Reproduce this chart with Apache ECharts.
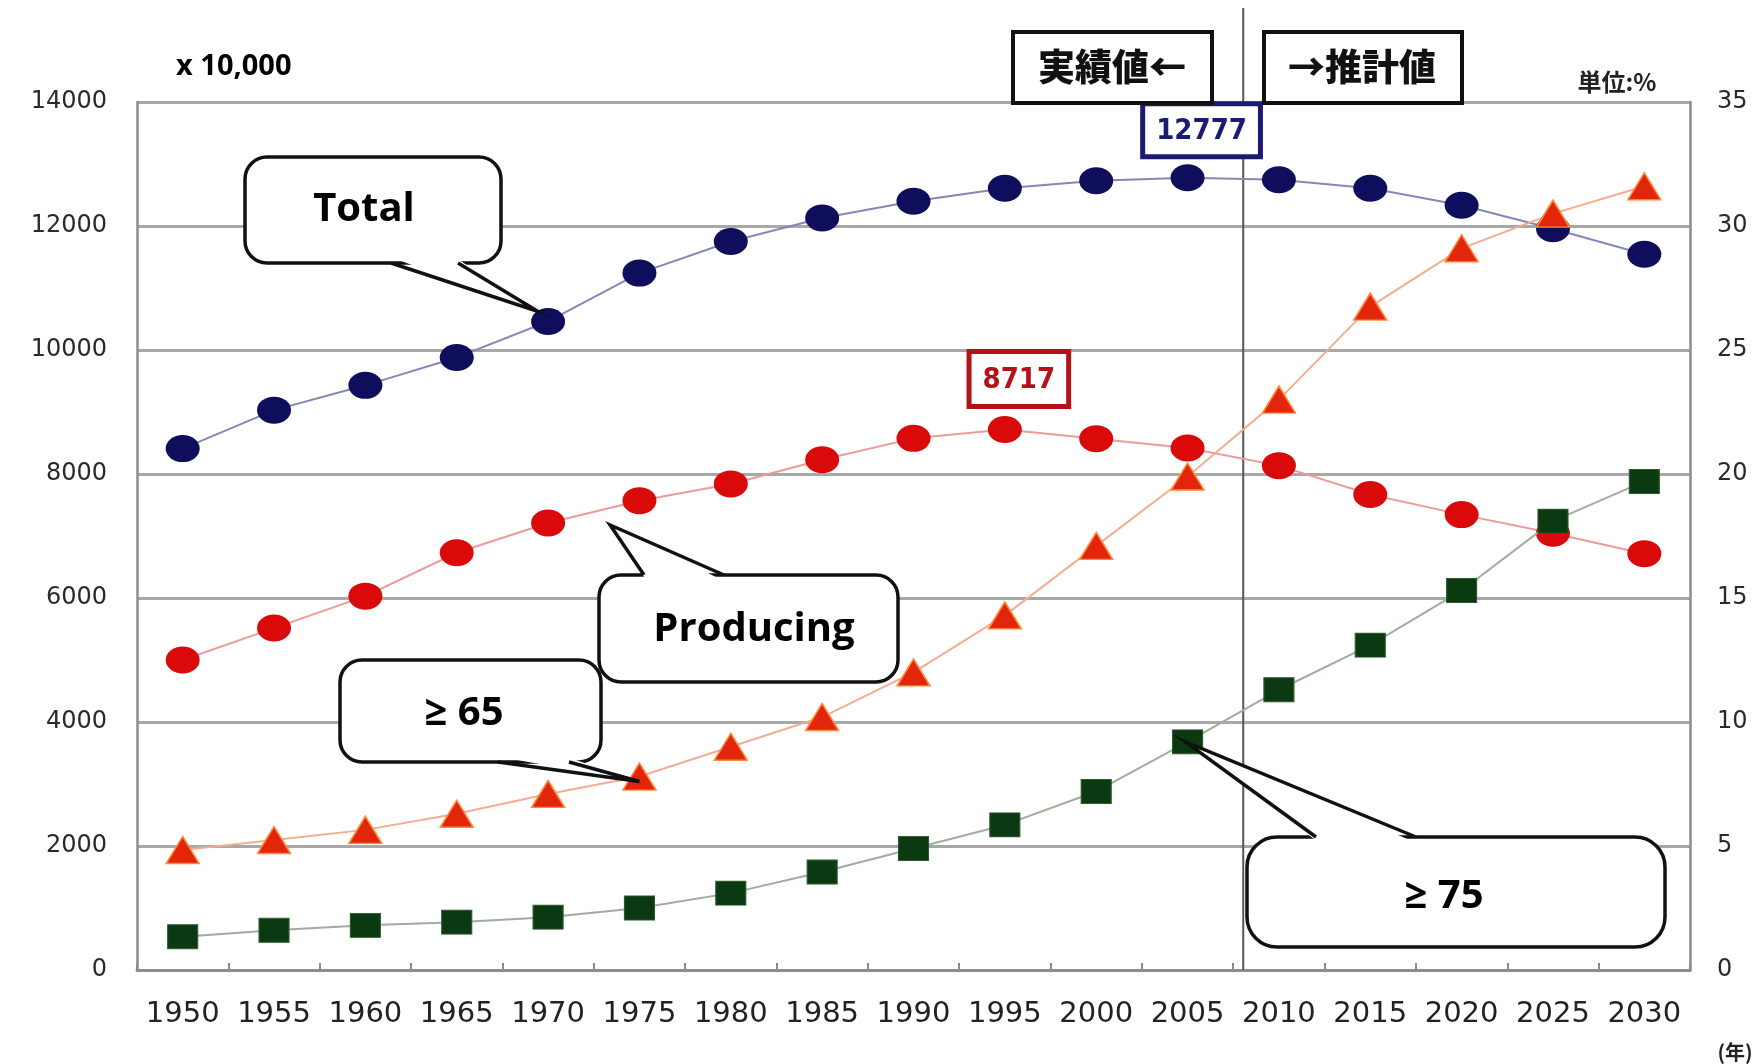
<!DOCTYPE html>
<html>
<head>
<meta charset="utf-8">
<script src="https://cdn.jsdelivr.net/npm/echarts@6/dist/echarts.min.js"></script>
<style>
  html, body { margin: 0; padding: 0; background: #fff; }
  #chart { width: 1760px; height: 1064px; }
</style>
</head>
<body>
<div id="chart"></div>
<script>
// population, x 10,000 (left axis)
const years = ['1950', '1955', '1960', '1965', '1970', '1975', '1980', '1985', '1990',
  '1995', '2000', '2005', '2010', '2015', '2020', '2025', '2030']
const totalPop = [8410, 9030, 9430, 9880, 10460, 11240, 11750, 12130, 12400,
  12610, 12730, 12777, 12745, 12610, 12335, 11955, 11545]
const producingPop = [5000, 5515, 6030, 6730, 7210, 7570, 7840, 8230, 8575,
  8717, 8570, 8420, 8135, 7670, 7345, 7045, 6715]
// share of population, % (right axis)
const over65 = [4.84, 5.24, 5.65, 6.3, 7.1, 7.8, 9.0, 10.2, 12.0,
  14.3, 17.1, 19.9, 23.0, 26.75, 29.1, 30.5, 31.6]
const over75 = [1.34, 1.6, 1.8, 1.93, 2.13, 2.5, 3.1, 3.95, 4.9,
  5.85, 7.2, 9.2, 11.3, 13.1, 15.3, 18.1, 19.7]

const leftTicks = { min: 0, max: 14000, interval: 2000 }
const rightTicks = { min: 0, max: 35, interval: 5 }

const axisFont = 'DejaVu Sans'
const boldFont = 'Open Sans'
const cjkFont = 'Noto Sans CJK JP'

// put a boxed value label on the peak of a series
function withPeakLabel(values, label) {
  const peak = Math.max(...values)
  return values.map(v => v === peak
    ? { value: v, label: Object.assign({ show: true, formatter: '{c}' }, label) }
    : v)
}

const chart = echarts.init(document.getElementById('chart'))

chart.setOption({
  animation: false,
  backgroundColor: '#fff',
  grid: { left: 137, right: 70, top: 102, bottom: 94 },
  xAxis: {
    type: 'category',
    data: years,
    boundaryGap: true,
    axisLine: { lineStyle: { color: '#8c8c8c', width: 3 } },
    axisTick: { show: true, inside: true, length: 7, lineStyle: { color: '#8c8c8c', width: 2 } },
    axisLabel: { interval: 0, margin: 30, fontFamily: axisFont, fontSize: 29, color: '#222' },
    splitLine: { show: false }
  },
  yAxis: [{
    type: 'value',
    min: leftTicks.min,
    max: leftTicks.max,
    interval: leftTicks.interval,
    axisLine: { show: true, lineStyle: { color: '#8c8c8c', width: 2.5 } },
    axisTick: { show: false },
    axisLabel: { margin: 30, fontFamily: axisFont, fontSize: 24, color: '#2a2a2a', formatter: v => String(v) },
    splitLine: { show: true, lineStyle: { color: '#a8a8a8', width: 3 } }
  }, {
    type: 'value',
    position: 'right',
    min: rightTicks.min,
    max: rightTicks.max,
    interval: rightTicks.interval,
    axisLine: { show: true, lineStyle: { color: '#8c8c8c', width: 2.5 } },
    axisTick: { show: false },
    axisLabel: { margin: 27, fontFamily: axisFont, fontSize: 24, color: '#2a2a2a', formatter: v => String(v) },
    splitLine: { show: false }
  }],
  series: [{
    name: 'Total',
    type: 'line',
    yAxisIndex: 0,
    data: withPeakLabel(totalPop, {
      position: 'top', distance: 10, offset: [14, 0],
      color: '#1b1b72', fontFamily: 'DejaVu Sans Condensed', fontWeight: 'bold', fontSize: 29,
      lineHeight: 40, padding: [5, 11, 3, 11], borderColor: '#1b1b72', borderWidth: 5,
      backgroundColor: '#fff'
    }),
    symbol: 'circle',
    symbolSize: [34, 27],
    itemStyle: { color: '#0e0e5c' },
    lineStyle: { color: '#8587b8', width: 2 },
    z: 3
  }, {
    name: 'Producing',
    type: 'line',
    yAxisIndex: 0,
    data: withPeakLabel(producingPop, {
      position: 'top', distance: 12, offset: [14, 0],
      color: '#b3121a', fontFamily: 'DejaVu Sans Condensed', fontWeight: 'bold', fontSize: 29,
      lineHeight: 40, padding: [6, 11, 4, 11], borderColor: '#b3121a', borderWidth: 5,
      backgroundColor: '#fff'
    }),
    symbol: 'circle',
    symbolSize: [34, 27],
    itemStyle: { color: '#da0a0a' },
    lineStyle: { color: '#ec9a9a', width: 2 },
    z: 3
  }, {
    name: '≥ 65',
    type: 'line',
    yAxisIndex: 1,
    data: over65,
    symbol: 'triangle',
    symbolSize: [33, 27],
    itemStyle: { color: '#e2260c', borderColor: '#ff8a3c', borderWidth: 1.5 },
    lineStyle: { color: '#f2ae90', width: 2 },
    z: 4
  }, {
    name: '≥ 75',
    type: 'line',
    yAxisIndex: 1,
    data: over75,
    symbol: 'rect',
    symbolSize: [30, 24],
    itemStyle: { color: '#0b3a12', borderColor: '#2e5a30', borderWidth: 1 },
    lineStyle: { color: '#9fae9c', width: 2 },
    z: 5
  }]
})

// annotations: callouts, period boxes, unit texts
const STROKE = 3.5

function callout(box, label, textAt, base, tip) {
  // base = [x1, x2, y], the edge of the box where the tail leaves
  const inward = base[2] <= box.y + 1 ? 5 : -5
  return [{
    type: 'rect', z: 100,
    shape: { x: box.x, y: box.y, width: box.w, height: box.h, r: box.r },
    style: { fill: '#fff', stroke: '#111', lineWidth: STROKE }
  }, {
    type: 'polygon', z: 101,
    shape: { points: [[base[0] + 2, base[2] + inward], tip, [base[1] - 2, base[2] + inward]] },
    style: { fill: '#fff' }
  }, {
    type: 'polyline', z: 102,
    shape: { points: [[base[0], base[2]], tip, [base[1], base[2]]] },
    style: { stroke: '#111', lineWidth: STROKE, fill: null, lineJoin: 'miter' }
  }, {
    type: 'text', z: 103, x: textAt[0], y: textAt[1],
    style: { text: label, font: 'bold 40px "' + boldFont + '"', fill: '#000', align: 'center', verticalAlign: 'middle' }
  }]
}

const px = (seriesIndex, i, v) => chart.convertToPixel({ seriesIndex }, [i, v])

const i1970 = years.indexOf('1970')
const i1975 = years.indexOf('1975')
const i2005 = years.indexOf('2005')
const i2010 = years.indexOf('2010')

const pTotal = px(0, i1970, totalPop[i1970])
const pProd = px(1, i1970, producingPop[i1970])
const p65 = px(2, i1975, over65[i1975])
const p75 = px(3, i2005, over75[i2005])

const sepX = (px(0, i2005, 0)[0] + px(0, i2010, 0)[0]) / 2 + 10
const axisBottom = px(0, 0, 0)[1]

const graphics = [].concat(
  callout({ x: 245, y: 157, w: 256, h: 106, r: 22 }, 'Total', [364, 210],
    [391, 458, 263], [pTotal[0] - 10, pTotal[1] - 10]),
  callout({ x: 599, y: 575, w: 299, h: 107, r: 22 }, 'Producing', [754, 630],
    [644, 724, 575], [pProd[0] + 62, pProd[1] + 2]),
  callout({ x: 340, y: 660, w: 261, h: 102, r: 22 }, '≥ 65', [464, 714],
    [498, 569, 762], [p65[0], p65[1] + 5]),
  callout({ x: 1247, y: 837, w: 418, h: 110, r: 30 }, '≥ 75', [1444, 897],
    [1316, 1416, 837], [p75[0] - 2, p75[1]]),
  [{
    type: 'line', z: 1,
    shape: { x1: sepX, y1: 8, x2: sepX, y2: axisBottom },
    style: { stroke: '#555', lineWidth: 2 }
  }, {
    type: 'rect', z: 100,
    shape: { x: 1013, y: 32, width: 199, height: 71 },
    style: { fill: '#fff', stroke: '#111', lineWidth: 4 }
  }, {
    type: 'text', z: 101, x: 1112, y: 67,
    style: { text: '実績値←', font: '900 37px "' + cjkFont + '"', fill: '#111', align: 'center', verticalAlign: 'middle' }
  }, {
    type: 'rect', z: 100,
    shape: { x: 1264, y: 32, width: 198, height: 71 },
    style: { fill: '#fff', stroke: '#111', lineWidth: 4 }
  }, {
    type: 'text', z: 101, x: 1362, y: 67,
    style: { text: '→推計値', font: '900 37px "' + cjkFont + '"', fill: '#111', align: 'center', verticalAlign: 'middle' }
  }, {
    type: 'text', z: 101, x: 1617, y: 82,
    style: { text: '単位:%', font: 'bold 24px "' + cjkFont + '"', fill: '#222', align: 'center', verticalAlign: 'middle' }
  }, {
    type: 'text', z: 101, x: 176, y: 67,
    style: { text: 'x 10,000', font: 'bold 29px "' + boldFont + '"', fill: '#000', align: 'left', verticalAlign: 'middle' }
  }, {
    type: 'text', z: 101, x: 1735, y: 1052,
    style: { text: '(年)', font: 'bold 20px "' + cjkFont + '"', fill: '#222', align: 'center', verticalAlign: 'middle' }
  }]
)

chart.setOption({ graphic: graphics })
</script>
</body>
</html>
